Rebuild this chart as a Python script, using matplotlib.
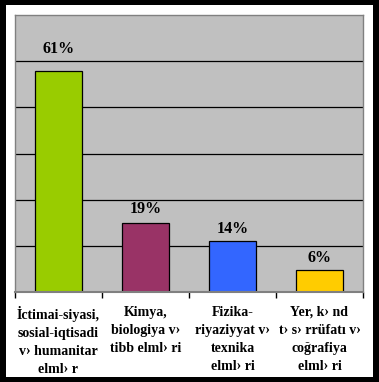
import matplotlib.pyplot as plt
import matplotlib.patches as mpatches
import numpy as np

categories = [
    "İctimai-siyasi,\nsosial-iqtisadi\nv› humanitar\nelml› r",
    "Kimya,\nbiologiya v›\ntibb elml› ri",
    "Fizika-\nriyaziyyat v›\ntexnika\nelml› ri",
    "Yer, k› nd\nt› s› rrüfatı v›\ncoğrafiya\nelml› ri",
]
values = [61, 19, 14, 6]
labels = ["61%", "19%", "14%", "6%"]
colors = ["#99CC00", "#993366", "#3366FF", "#FFCC00"]
label_offsets = [10, 4, 3, 3]  # points above bar top

W, H = 379, 382
fig = plt.figure(figsize=(W / 100, H / 100), dpi=100, facecolor="black")
fig.patches.append(mpatches.Rectangle((6 / W, 5 / H), 367 / W, 372 / H,
                                      transform=fig.transFigure,
                                      facecolor="white", edgecolor="none", zorder=-10))

ax = fig.add_axes([15 / W, (H - 292) / H, 348 / W, 277 / H])
ax.set_zorder(5)
ax.set_facecolor("#C0C0C0")
ymax = 76.3
ax.set_ylim(0, ymax)
ax.set_xlim(-0.5, 3.5)
for y in np.linspace(0, ymax, 7)[1:-1]:
    ax.axhline(y, color="black", lw=0.9, zorder=1)

x = np.arange(len(values))
ax.bar(x, values, width=0.53, color=colors, edgecolor="black", linewidth=0.9, zorder=2)
for xi, v, lab, off in zip(x, values, labels, label_offsets):
    ax.annotate(lab, (xi, v), xytext=(0, off), textcoords="offset points",
                ha="center", va="bottom", fontsize=11.5, fontweight="bold",
                family="Liberation Serif")

for s in ["left", "right", "top"]:
    ax.spines[s].set_color("#808080")
    ax.spines[s].set_linewidth(1)
ax.spines["bottom"].set_color("#808080")
ax.spines["bottom"].set_linewidth(1.5)

ax.set_yticks([])
ax.set_xticks(x)
ax.set_xticklabels(categories, fontsize=10, fontweight="bold",
                   family="Liberation Serif", linespacing=1.5)
ax.tick_params(axis="x", which="major", length=0, pad=10)
ax.set_xticks(np.arange(-0.5, 4, 1), minor=True)
ax.tick_params(axis="x", which="minor", length=4, width=1, color="black", direction="out")

plt.savefig("out.png", dpi=100, facecolor=fig.get_facecolor())
